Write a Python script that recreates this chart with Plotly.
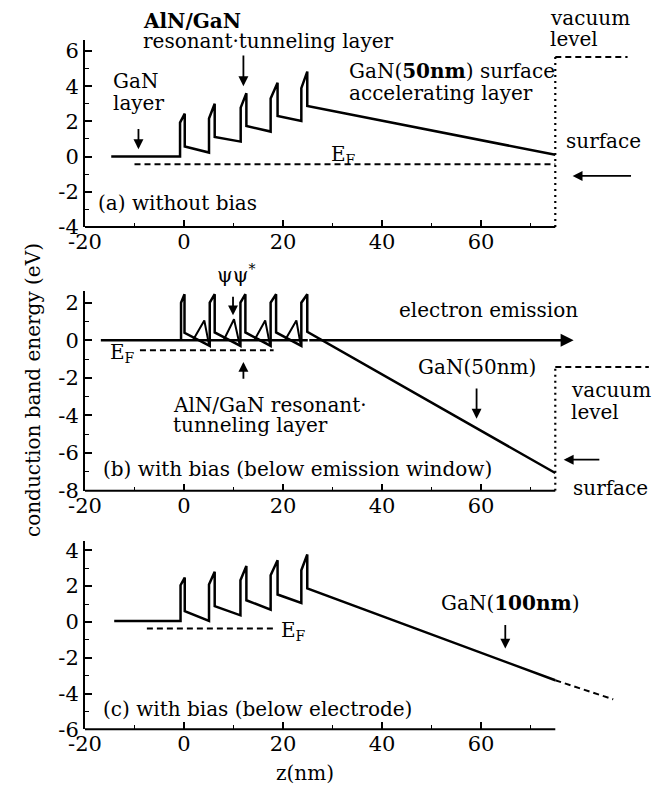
import plotly.graph_objects as go

# ---------------- data ----------------
# (a) without bias : conduction band profile
z_a = [-14.7, -0.8, -0.8, 0.15, 0.15, 5.05, 5.05, 6.2, 6.2, 11.45, 11.45, 12.6, 12.6,
       17.5, 17.5, 18.9, 18.9, 23.7, 23.7, 24.9, 24.9, 75]
e_a = [0.0, 0.0, 1.93, 2.44, 0.57, 0.23, 2.16, 3.0, 1.12, 0.85, 2.78, 3.6, 1.74,
       1.42, 3.3, 4.2, 2.31, 2.03, 3.89, 4.83, 2.88, 0.1]
ef_a_z = [-10, 75]
ef_a_e = [-0.43, -0.43]
vac_a_vz = [75, 75]
vac_a_ve = [-4, 5.66]
vac_a_hz = [75, 89.6]
vac_a_he = [5.66, 5.66]

# (b) with bias (below emission window)
z_b = [-0.6, -0.6, 0.1, 0.1, 5.2, 5.2, 6.2, 6.2, 11.4, 11.4, 12.4, 12.4,
       17.5, 17.5, 18.6, 18.6, 23.7, 23.7, 24.9, 24.9, 75]
e_b = [0.0, 2.0, 2.45, 0.4, -0.3, 2.0, 2.45, 0.42, -0.3, 2.0, 2.45, 0.42,
       -0.3, 2.0, 2.45, 0.42, -0.3, 2.0, 2.45, 0.45, -7.06]
flat_b_z = [-16.8, 25]
flat_b_e = [0, 0]
psi_z = [1.8, 4.1, 5.1, None, 8.0, 10.1, 11.3, None, 14.2, 16.4, 17.4, None, 20.4, 22.7, 23.6]
psi_e = [0.0, 1.05, -0.3, None, 0.0, 1.12, -0.3, None, 0.0, 1.05, -0.3, None, 0.0, 1.05, -0.3]
ef_b_z = [-8.9, 18.1]
ef_b_e = [-0.53, -0.53]
vac_b_vz = [75, 75]
vac_b_ve = [-8, -1.42]
vac_b_hz = [75, 93.9]
vac_b_he = [-1.42, -1.42]

# (c) with bias (below electrode)
z_c = [-14.1, -0.7, -0.7, 0.15, 0.15, 5.05, 5.05, 6.2, 6.2, 11.4, 11.4, 12.6, 12.6,
       17.5, 17.5, 18.9, 18.9, 23.7, 23.7, 24.9, 24.9, 75]
e_c = [0.05, 0.05, 2.05, 2.48, 0.6, 0.06, 2.09, 2.8, 0.88, 0.37, 2.33, 3.13, 1.21,
       0.69, 2.61, 3.45, 1.53, 1.06, 2.89, 3.77, 1.87, -3.26]
ext_c_z = [75, 86.7]
ext_c_e = [-3.26, -4.32]
ef_c_z = [-7.5, 18.2]
ef_c_e = [-0.37, -0.37]

# axes
x_ticks = [-20, 0, 20, 40, 60]
x_minor = [-10, 10, 30, 50, 70]
ya_ticks = [-4, -2, 0, 2, 4, 6]
yb_ticks = [-8, -6, -4, -2, 0, 2]
yc_ticks = [-6, -4, -2, 0, 2, 4]
YA_RANGE = [-4, 6.6]
YB_RANGE = [-8, 2.6]
YC_RANGE = [-6, 4.5]

FONT = "DejaVu Serif"
BLACK = "black"


def lab(v):
    return str(v)


fig = go.Figure()


def line(x, y, ax, dash="solid", width=2.5):
    fig.add_trace(go.Scatter(x=x, y=y, mode="lines", xaxis=ax[0], yaxis=ax[1],
                             line=dict(color=BLACK, width=width, dash=dash),
                             showlegend=False, hoverinfo="skip"))


A = ("x", "y", YA_RANGE)
B = ("x2", "y2", YB_RANGE)
C = ("x3", "y3", YC_RANGE)

line(z_a, e_a, A)
line(ef_a_z, ef_a_e, A, dash="6px,4px", width=2)
line(vac_a_vz, vac_a_ve, A, dash="2px,4px", width=2.2)
line(vac_a_hz, vac_a_he, A, dash="6px,4px", width=2)

line(flat_b_z, flat_b_e, B, width=2.5)
line(z_b, e_b, B)
line(psi_z, psi_e, B, width=2)
line(ef_b_z, ef_b_e, B, dash="6px,4px", width=2)
line(vac_b_vz, vac_b_ve, B, dash="2px,4px", width=2.2)
line(vac_b_hz, vac_b_he, B, dash="6px,4px", width=2)

line(z_c, e_c, C)
line(ext_c_z, ext_c_e, C, dash="6px,4px", width=2)
line(ef_c_z, ef_c_e, C, dash="6px,4px", width=2)

W, H = 672, 787
OFF = 8  # page offset of the plot div


def px_x(x):
    return (x - OFF) / W


def px_y(y):
    return 1 - (y - OFF) / H


XDOM = [px_x(85), px_x(654.3)]
xcommon = dict(range=[-20, 95], domain=XDOM, showline=False, showgrid=False, zeroline=False,
               automargin=False,
               ticks="inside", ticklen=7, tickwidth=1.5, tickcolor=BLACK,
               tickvals=x_ticks, ticktext=[lab(v) for v in x_ticks],
               minor=dict(tickvals=x_minor, ticks="inside", ticklen=4, tickwidth=1.2, tickcolor=BLACK),
               tickfont=dict(family=FONT, size=21, color=BLACK))


def ycommon(rng, dom, ticks):
    return dict(range=rng, domain=dom, showline=True, linewidth=2, linecolor=BLACK,
                automargin=False,
                showgrid=False, zeroline=False, ticks="inside", ticklen=7, tickwidth=1.5,
                tickcolor=BLACK, tickvals=ticks, ticktext=[lab(v) for v in ticks],
                minor=dict(dtick=1, tick0=0, ticks="inside", ticklen=4, tickwidth=1.2, tickcolor=BLACK),
                tickfont=dict(family=FONT, size=21, color=BLACK))


fig.update_layout(
    width=W, height=H, autosize=False,
    margin=dict(l=0, r=0, t=0, b=0, pad=0, autoexpand=False),
    paper_bgcolor="white", plot_bgcolor="rgba(0,0,0,0)",
    font=dict(family=FONT, size=20, color=BLACK),
    xaxis=dict(anchor="y", **xcommon),
    xaxis2=dict(anchor="y2", **xcommon),
    xaxis3=dict(anchor="y3", **xcommon),
    yaxis=dict(anchor="x", **ycommon(YA_RANGE, [px_y(227), px_y(40.4)], ya_ticks)),
    yaxis2=dict(anchor="x2", **ycommon(YB_RANGE, [px_y(490.7), px_y(291.4)], yb_ticks)),
    yaxis3=dict(anchor="x3", **ycommon(YC_RANGE, [px_y(729.3), px_y(541.4)], yc_ticks)),
)

# bottom axis lines (only up to z = 75)
for xr, yr in (("x", "y domain"), ("x2", "y2 domain"), ("x3", "y3 domain")):
    fig.add_shape(type="line", xref=xr, yref=yr, x0=-20, x1=75, y0=0, y1=0,
                  line=dict(color=BLACK, width=2))


def text(s, x, y, ax, xanchor="left", size=20):
    r0, r1 = ax[2]
    fig.add_annotation(text=s, x=x, y=(y - r0) / (r1 - r0), xref=ax[0], yref=ax[1] + " domain",
                       showarrow=False, xanchor=xanchor, yanchor="middle",
                       font=dict(family=FONT, size=size, color=BLACK))


def arrow(x, y, axx, axy, ax, width=1.8, size=1.1):
    fig.add_annotation(text="", x=x, y=y, ax=axx, ay=axy, xref=ax[0], yref=ax[1],
                       axref=ax[0], ayref=ax[1], showarrow=True, arrowhead=2,
                       arrowsize=size, arrowwidth=width, arrowcolor=BLACK)


# panel (a)
text("<b>AlN/GaN</b>", -8.75, 7.7, A)
text("resonant·tunneling layer", -8.75, 6.55, A)
arrow(12.0, 4.0, 12.0, 5.83, A)
text("GaN", -14.8, 4.3, A)
text("layer", -14.8, 3.07, A)
arrow(-9.2, 0.42, -9.2, 1.65, A)
text("GaN(<b>50nm</b>) surface", 33.0, 4.87, A)
text("accelerating layer", 33.0, 3.64, A)
text("vacuum", 73.5, 7.9, A)
text("level", 73.5, 6.67, A)
text("surface", 76.7, 0.89, A)
arrow(78.5, -1.1, 90.6, -1.1, A)
text("E<sub>F</sub>", 29.2, 0.1, A)
text("(a) without bias", -17.8, -2.61, A)

# panel (b)
text("ψψ<sup>*</sup>", 10.6, 3.55, B, xanchor="center")
arrow(9.9, 1.33, 9.9, 2.4, B)
text("E<sub>F</sub>", -15.4, -0.7, B)
arrow(12.0, -1.15, 12.0, -2.13, B)
text("AlN/GaN resonant·", -2.7, -3.46, B)
text("tunneling layer", -2.7, -4.52, B)
arrow(78.7, 0, 25, 0, B, width=2.6, size=1.0)
text("electron emission", 43.1, 1.6, B)
text("GaN(50nm)", 46.8, -1.42, B)
arrow(59.1, -4.17, 59.1, -2.48, B)
text("vacuum", 77.7, -2.66, B)
text("level", 77.7, -3.81, B)
arrow(76.7, -6.35, 84.2, -6.35, B)
text("surface", 78.1, -7.84, B)
text("(b) with bias (below emission window)", -16.7, -6.85, B)

# panel (c)
text("E<sub>F</sub>", 19.1, -0.5, C)
text("GaN(<b>100nm</b>)", 51.5, 1.03, C)
arrow(64.9, -1.49, 64.9, -0.09, C)
text("(c) with bias (below electrode)", -16.8, -4.84, C)

# axis titles
fig.add_annotation(text="z(nm)", x=px_x(305), y=px_y(773), xref="paper", yref="paper",
                   showarrow=False, xanchor="center", yanchor="middle",
                   font=dict(family=FONT, size=20, color=BLACK))
fig.add_annotation(text="conduction band energy (eV)", x=px_x(33), y=px_y(390),
                   xref="paper", yref="paper", showarrow=False, textangle=-90,
                   xanchor="center", yanchor="middle",
                   font=dict(family=FONT, size=20, color=BLACK))

fig.write_html("out.html")
